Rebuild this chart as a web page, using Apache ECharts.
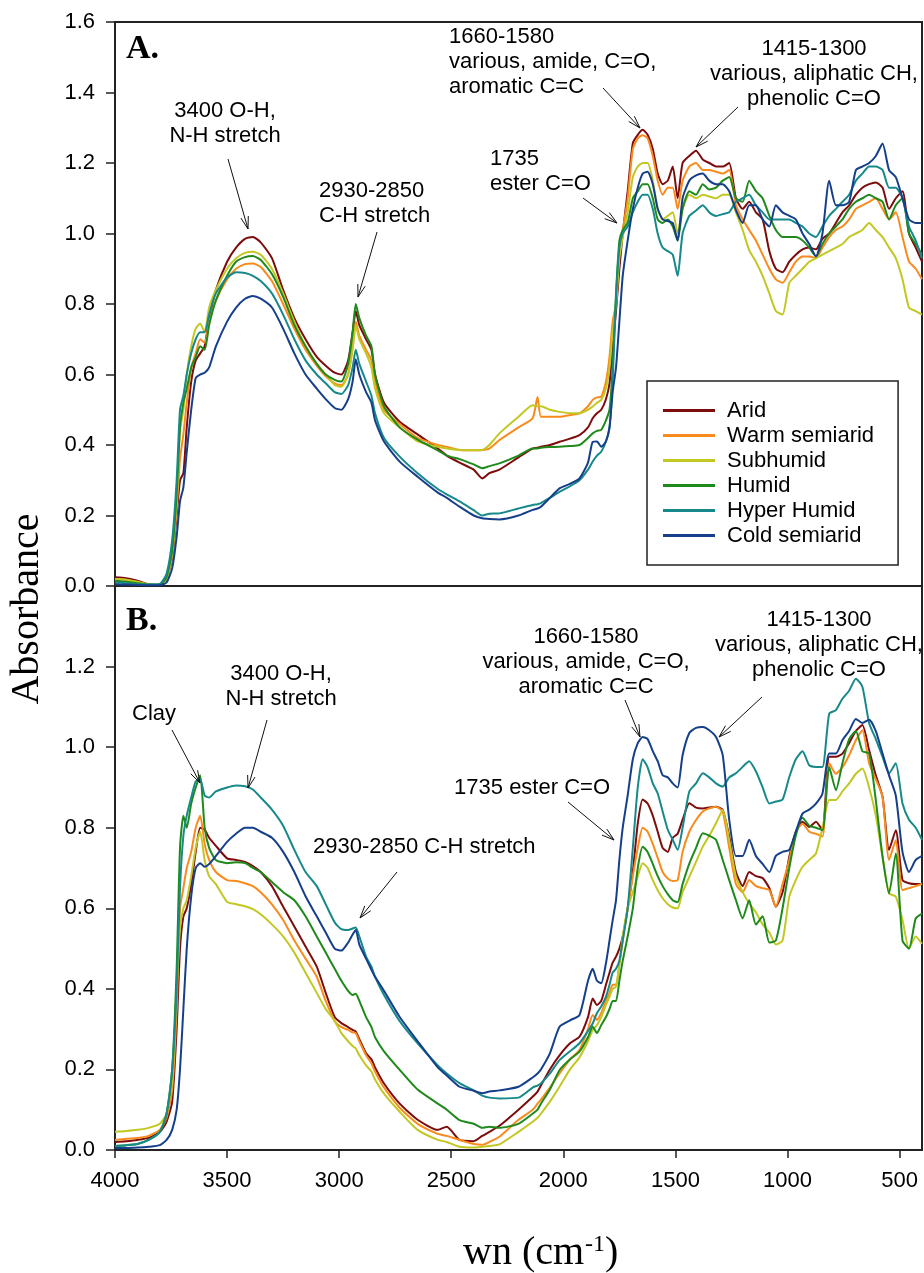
<!DOCTYPE html>
<html>
<head>
<meta charset="utf-8">
<script src="https://cdn.jsdelivr.net/npm/echarts@6/dist/echarts.min.js"></script>
<style>html,body{margin:0;padding:0;background:#fff}#chart{width:924px;height:1273px}</style>
</head>
<body>
<div id="chart"></div>
<script>
// wavenumber grid (cm-1), shared by both panels
var wn = [
  4000, 3950, 3900, 3850, 3800, 3770, 3745, 3725, 3710, 3695,
  3680, 3660, 3640, 3620, 3600, 3580, 3550, 3500, 3460, 3420,
  3385, 3350, 3300, 3250, 3200, 3150, 3100, 3060, 3020, 2990,
  2960, 2940, 2926, 2910, 2880, 2856, 2840, 2800, 2730, 2650,
  2560, 2520, 2463, 2400, 2362, 2330, 2285, 2200, 2137, 2115,
  2100, 2060, 2017, 1970, 1928, 1890, 1869, 1850, 1831, 1810,
  1794, 1780, 1765, 1750, 1735, 1713, 1690, 1668, 1646, 1624,
  1601, 1579, 1557, 1534, 1512, 1490, 1468, 1438, 1408, 1378,
  1349, 1319, 1289, 1260, 1230, 1200, 1171, 1141, 1111, 1081,
  1052, 1022, 992, 963, 933, 903, 873, 844, 814, 784,
  755, 725, 695, 666, 636, 606, 576, 547, 517, 487,
  458, 428, 400
];

var names = ['Arid', 'Warm semiarid', 'Subhumid', 'Humid', 'Hyper Humid', 'Cold semiarid'];
var colors = ['#7d0c0c', '#f98b1c', '#c3c722', '#1f8a1c', '#17898b', '#153f8a'];
var xTicks = [4000, 3500, 3000, 2500, 2000, 1500, 1000, 500];

// panel A
var aArid = [
  0.025, 0.022, 0.015, 0.005, 0.003, 0.02, 0.08, 0.2, 0.3, 0.32,
  0.45, 0.58, 0.64, 0.66, 0.68, 0.76, 0.84, 0.92, 0.96, 0.985,
  0.99, 0.975, 0.93, 0.84, 0.76, 0.7, 0.65, 0.625, 0.605, 0.6,
  0.64, 0.72, 0.78, 0.74, 0.7, 0.67, 0.6, 0.52, 0.466, 0.43,
  0.39, 0.37, 0.35, 0.33, 0.305, 0.32, 0.33, 0.365, 0.39, 0.392,
  0.395, 0.4, 0.409, 0.418, 0.428, 0.45, 0.476, 0.49, 0.5, 0.53,
  0.575, 0.68, 0.78, 0.9, 1.0, 1.12, 1.256, 1.28, 1.294, 1.28,
  1.24, 1.17, 1.14, 1.15, 1.19, 1.1, 1.2, 1.22, 1.235, 1.21,
  1.2, 1.19, 1.19, 1.2, 1.1, 1.07, 1.09, 1.06, 1.04, 0.95,
  0.9, 0.89, 0.92, 0.94, 0.955, 0.96, 0.955, 0.985, 1.0, 1.03,
  1.06, 1.08, 1.11, 1.13, 1.14, 1.145, 1.13, 1.07, 1.1, 1.12,
  1.0, 0.96, 0.92
];
var aWarm = [
  0.02, 0.018, 0.01, 0.004, 0.003, 0.02, 0.09, 0.22, 0.36, 0.43,
  0.52, 0.62, 0.66, 0.7, 0.69, 0.75, 0.81, 0.87, 0.9, 0.913,
  0.915, 0.905, 0.865, 0.8, 0.73, 0.67, 0.625, 0.595, 0.575, 0.57,
  0.6, 0.68, 0.75, 0.71, 0.67, 0.64, 0.58, 0.5, 0.46, 0.42,
  0.4, 0.395, 0.386, 0.385, 0.386, 0.39, 0.414, 0.45, 0.476, 0.536,
  0.48, 0.48, 0.48, 0.485, 0.49, 0.51, 0.528, 0.535, 0.537, 0.58,
  0.65, 0.75, 0.8, 0.95, 1.01, 1.1, 1.24, 1.27, 1.279, 1.27,
  1.22, 1.15, 1.11, 1.13, 1.13, 1.07, 1.15, 1.19, 1.2, 1.18,
  1.18, 1.175, 1.17, 1.18, 1.08, 1.04, 1.01, 0.98, 0.94, 0.9,
  0.87, 0.86, 0.89, 0.92, 0.935, 0.935, 0.93, 0.96, 0.99, 1.01,
  1.02, 1.04, 1.07, 1.08, 1.09, 1.1, 1.07, 1.04, 1.06, 0.99,
  0.92, 0.9, 0.87
];
var aSub = [
  0.02, 0.018, 0.012, 0.005, 0.003, 0.02, 0.09, 0.24, 0.44, 0.5,
  0.6, 0.68, 0.73, 0.745, 0.72, 0.79, 0.84, 0.9, 0.93, 0.945,
  0.948, 0.94, 0.9, 0.83, 0.75, 0.68, 0.63, 0.6, 0.57, 0.565,
  0.6, 0.67, 0.74, 0.7, 0.66, 0.62, 0.56, 0.49, 0.45, 0.41,
  0.395, 0.39, 0.386, 0.385, 0.386, 0.4, 0.433, 0.48, 0.513, 0.51,
  0.51, 0.5, 0.494, 0.49, 0.49, 0.5, 0.509, 0.52, 0.528, 0.56,
  0.62, 0.72, 0.8, 0.93, 0.99, 1.06, 1.16, 1.19, 1.2, 1.2,
  1.15, 1.07, 1.04, 1.05, 1.06, 1.0, 1.07, 1.11, 1.1, 1.11,
  1.105, 1.1, 1.11, 1.11, 1.06, 1.01, 0.953, 0.92, 0.88, 0.83,
  0.78, 0.77, 0.86, 0.88, 0.9, 0.92, 0.93, 0.94, 0.95, 0.96,
  0.97, 0.99, 1.0, 1.01, 1.03, 1.01, 0.99, 0.96, 0.93, 0.87,
  0.79, 0.78, 0.77
];
var aHumid = [
  0.015, 0.012, 0.008, 0.004, 0.004, 0.025, 0.1, 0.26, 0.45, 0.52,
  0.56, 0.62, 0.65, 0.68, 0.67, 0.74, 0.81, 0.88, 0.92, 0.933,
  0.936, 0.925, 0.885, 0.82, 0.74, 0.68, 0.63, 0.6, 0.585, 0.58,
  0.63, 0.72, 0.8, 0.76, 0.71, 0.68, 0.6, 0.51, 0.45, 0.415,
  0.385, 0.37, 0.36, 0.345, 0.334, 0.34, 0.348, 0.37, 0.39, 0.39,
  0.392, 0.394, 0.395, 0.397, 0.4, 0.42, 0.433, 0.44, 0.443, 0.47,
  0.5, 0.62, 0.83, 0.98, 1.01, 1.03, 1.1, 1.12, 1.14, 1.14,
  1.1, 1.04, 1.03, 1.04, 1.02, 0.98, 1.07, 1.12, 1.11, 1.14,
  1.125, 1.13, 1.15, 1.16, 1.1, 1.09, 1.15, 1.12, 1.1, 1.05,
  1.01, 0.99, 0.99, 0.99, 0.98, 0.96, 0.935, 0.97, 1.0, 1.02,
  1.04, 1.07, 1.09, 1.1, 1.11, 1.1, 1.09, 1.04, 1.08, 1.1,
  1.0, 0.97, 0.94
];
var aHyper = [
  0.01, 0.008, 0.005, 0.004, 0.006, 0.035, 0.13, 0.3, 0.5, 0.54,
  0.6, 0.66, 0.7, 0.72, 0.72, 0.77, 0.83, 0.875, 0.89, 0.888,
  0.88, 0.865, 0.83, 0.77, 0.7, 0.64, 0.6, 0.575, 0.55, 0.545,
  0.57, 0.62, 0.67, 0.63, 0.58, 0.54, 0.49, 0.42, 0.367, 0.32,
  0.275, 0.26, 0.24, 0.215, 0.2, 0.205, 0.206, 0.22, 0.23, 0.232,
  0.235, 0.25, 0.267, 0.283, 0.3, 0.33, 0.353, 0.37, 0.381, 0.41,
  0.45, 0.58, 0.82, 0.96, 1.0, 1.02, 1.06, 1.09, 1.11, 1.11,
  1.07, 1.0, 0.96, 0.95, 0.94, 0.88, 1.0, 1.05, 1.065, 1.08,
  1.06, 1.05, 1.055, 1.06, 1.09, 1.1, 1.11, 1.08, 1.06, 1.04,
  1.04, 1.04, 1.04, 1.03, 1.02, 1.0, 0.99, 1.02, 1.05, 1.07,
  1.09, 1.11, 1.15, 1.17, 1.19, 1.19, 1.18, 1.13, 1.13, 1.1,
  1.02, 0.98, 0.93
];
var aCold = [
  0.005, 0.004, 0.003, 0.002, 0.002, 0.01, 0.05, 0.14, 0.24, 0.28,
  0.38, 0.5, 0.59, 0.6, 0.605, 0.62, 0.68, 0.75, 0.79, 0.815,
  0.823, 0.815, 0.79, 0.73, 0.66, 0.6, 0.56, 0.53, 0.505, 0.5,
  0.53, 0.58, 0.643, 0.6, 0.55, 0.52, 0.47, 0.41, 0.353, 0.31,
  0.265, 0.25, 0.225, 0.2, 0.192, 0.19, 0.189, 0.2, 0.216, 0.22,
  0.225, 0.25, 0.277, 0.29, 0.305, 0.35, 0.409, 0.41, 0.395, 0.41,
  0.45, 0.55, 0.62, 0.75, 0.88, 0.98, 1.07, 1.13, 1.17, 1.175,
  1.14, 1.07, 1.04, 1.035, 1.03, 0.98, 1.1, 1.15, 1.165, 1.17,
  1.15, 1.14, 1.14, 1.12, 1.066, 1.03, 1.08, 1.08, 1.04, 1.02,
  1.08, 1.06, 1.05, 1.04, 1.0, 0.97, 0.935, 1.0, 1.15, 1.08,
  1.08, 1.09, 1.18, 1.19, 1.2, 1.22, 1.255, 1.18, 1.16, 1.1,
  1.04, 1.03, 1.03
];

// panel B
var bArid = [
  0.02, 0.022, 0.025, 0.03, 0.045, 0.07, 0.12, 0.3, 0.5, 0.58,
  0.6, 0.66, 0.74, 0.8, 0.795, 0.775, 0.755, 0.724, 0.72, 0.715,
  0.705, 0.69, 0.655, 0.604, 0.555, 0.505, 0.455, 0.39, 0.33, 0.315,
  0.305, 0.298, 0.294, 0.275, 0.24, 0.225, 0.205, 0.165, 0.115, 0.075,
  0.05, 0.058, 0.025, 0.022, 0.035, 0.045, 0.06, 0.1, 0.132, 0.145,
  0.16, 0.2, 0.235, 0.265, 0.281, 0.33, 0.376, 0.36, 0.37, 0.41,
  0.44, 0.465, 0.48, 0.5, 0.53, 0.6, 0.69, 0.81, 0.87, 0.86,
  0.83, 0.79, 0.75, 0.74, 0.775, 0.785, 0.82, 0.861, 0.85, 0.848,
  0.85, 0.852, 0.844, 0.778, 0.69, 0.655, 0.69, 0.68, 0.675, 0.65,
  0.604, 0.64, 0.728, 0.79, 0.815, 0.802, 0.815, 0.794, 0.976, 0.976,
  0.984, 1.01, 1.04, 1.055, 0.993, 0.93, 0.877, 0.745, 0.794, 0.67,
  0.662, 0.66, 0.66
];
var bWarm = [
  0.025, 0.028, 0.03, 0.035, 0.05, 0.08, 0.15, 0.35, 0.6, 0.65,
  0.7, 0.74, 0.8, 0.83, 0.76, 0.72, 0.69, 0.67, 0.668, 0.662,
  0.655, 0.64, 0.61, 0.571, 0.52, 0.475, 0.43, 0.37, 0.32, 0.305,
  0.298, 0.292, 0.29, 0.27, 0.235, 0.215, 0.195, 0.155, 0.105, 0.065,
  0.04, 0.035, 0.025, 0.015, 0.013, 0.02, 0.033, 0.075, 0.1, 0.115,
  0.125, 0.155, 0.19, 0.225, 0.248, 0.3, 0.335, 0.323, 0.34, 0.37,
  0.39, 0.41, 0.41, 0.46, 0.52, 0.6, 0.68, 0.75, 0.8, 0.79,
  0.76, 0.725, 0.69, 0.674, 0.668, 0.67, 0.74, 0.79, 0.819, 0.84,
  0.848, 0.852, 0.84, 0.75, 0.66, 0.64, 0.67, 0.655, 0.65, 0.645,
  0.604, 0.66, 0.72, 0.79, 0.81, 0.79, 0.785, 0.778, 0.96, 0.934,
  0.95, 0.98, 1.017, 1.042, 0.96, 0.92, 0.877, 0.72, 0.769, 0.645,
  0.65, 0.655, 0.661
];
var bSub = [
  0.045, 0.047, 0.05, 0.055, 0.065, 0.09, 0.17, 0.4, 0.55, 0.6,
  0.62, 0.68, 0.75, 0.79, 0.72, 0.68, 0.66, 0.616, 0.61, 0.605,
  0.598, 0.585, 0.56, 0.53, 0.49, 0.44, 0.39, 0.35, 0.32, 0.29,
  0.27, 0.258, 0.252, 0.235, 0.21, 0.195, 0.175, 0.14, 0.095, 0.05,
  0.025, 0.02, 0.008, 0.006, 0.008, 0.01, 0.014, 0.045, 0.07, 0.08,
  0.09, 0.12, 0.157, 0.2, 0.23, 0.27, 0.298, 0.31, 0.33, 0.36,
  0.38, 0.4, 0.405, 0.46, 0.53, 0.6, 0.64, 0.68, 0.712, 0.7,
  0.67, 0.645, 0.625, 0.61, 0.602, 0.6, 0.64, 0.678, 0.715, 0.753,
  0.78, 0.811, 0.844, 0.769, 0.678, 0.64, 0.612, 0.59, 0.56, 0.54,
  0.51, 0.52, 0.629, 0.67, 0.703, 0.72, 0.736, 0.8, 0.869, 0.869,
  0.89, 0.91, 0.934, 0.947, 0.9, 0.83, 0.728, 0.637, 0.629, 0.571,
  0.5, 0.53, 0.512
];
var bHumid = [
  0.01, 0.012, 0.015, 0.025, 0.045, 0.09, 0.2, 0.45, 0.75, 0.83,
  0.8, 0.86, 0.9, 0.93, 0.8, 0.75, 0.72, 0.712, 0.714, 0.712,
  0.7, 0.69, 0.665, 0.64, 0.62, 0.58, 0.53, 0.49, 0.45, 0.42,
  0.395, 0.385, 0.388, 0.37, 0.33, 0.305, 0.28, 0.245, 0.199, 0.15,
  0.115, 0.1, 0.074, 0.065, 0.055, 0.058, 0.055, 0.065, 0.09, 0.1,
  0.115, 0.15, 0.198, 0.225, 0.244, 0.28, 0.306, 0.29, 0.31, 0.33,
  0.35, 0.37, 0.37, 0.42, 0.47, 0.53, 0.6, 0.7, 0.753, 0.74,
  0.71, 0.68, 0.655, 0.635, 0.62, 0.615, 0.66, 0.711, 0.75, 0.786,
  0.78, 0.77, 0.72, 0.67, 0.62, 0.575, 0.62, 0.56, 0.58, 0.515,
  0.52, 0.6, 0.7, 0.78, 0.825, 0.805, 0.8, 0.794, 0.951, 0.893,
  0.96, 1.02, 1.04, 0.99, 0.984, 0.868, 0.728, 0.637, 0.736, 0.52,
  0.5, 0.575, 0.587
];
var bHyper = [
  0.01, 0.012, 0.015, 0.025, 0.045, 0.09, 0.2, 0.4, 0.65, 0.78,
  0.83, 0.875, 0.915, 0.92, 0.88, 0.875, 0.89, 0.9, 0.905, 0.903,
  0.895, 0.875, 0.845, 0.805, 0.745, 0.69, 0.655, 0.61, 0.565, 0.548,
  0.546, 0.55, 0.552, 0.53, 0.48, 0.455, 0.43, 0.385, 0.32, 0.265,
  0.21, 0.19, 0.166, 0.148, 0.135, 0.13, 0.128, 0.13, 0.155, 0.16,
  0.165, 0.19, 0.223, 0.245, 0.265, 0.295, 0.314, 0.34, 0.356, 0.38,
  0.41, 0.44, 0.45, 0.47, 0.52, 0.6, 0.75, 0.9, 0.97, 0.95,
  0.91, 0.885, 0.84, 0.795, 0.77, 0.745, 0.8, 0.89, 0.91, 0.935,
  0.925, 0.91, 0.902, 0.925, 0.935, 0.951, 0.965, 0.94, 0.9, 0.86,
  0.865, 0.87, 0.926, 0.97, 0.99, 0.955, 0.951, 0.951, 1.083, 1.092,
  1.12, 1.14, 1.17, 1.15, 1.06, 1.02, 0.976, 0.935, 0.96, 0.86,
  0.82, 0.8, 0.77
];
var bCold = [
  0.005, 0.005, 0.006, 0.008, 0.012, 0.025, 0.05, 0.1, 0.2, 0.35,
  0.5, 0.63, 0.7, 0.712, 0.703, 0.71, 0.73, 0.765, 0.785, 0.8,
  0.8, 0.79, 0.775, 0.74, 0.69, 0.63, 0.58, 0.54, 0.5, 0.495,
  0.515, 0.535, 0.546, 0.51, 0.475, 0.447, 0.43, 0.395, 0.33, 0.27,
  0.205, 0.185, 0.157, 0.147, 0.141, 0.145, 0.148, 0.157, 0.18, 0.19,
  0.2, 0.24, 0.306, 0.322, 0.335, 0.42, 0.45, 0.42, 0.414, 0.463,
  0.52, 0.57, 0.62, 0.72, 0.8, 0.88, 0.97, 1.01, 1.025, 1.02,
  0.99, 0.965, 0.93, 0.925, 0.91, 0.9, 0.98, 1.035, 1.048, 1.05,
  1.042, 1.025, 0.98, 0.82, 0.73, 0.73, 0.77, 0.73, 0.71, 0.69,
  0.73, 0.74, 0.745, 0.79, 0.835, 0.845, 0.86, 0.885, 0.984, 0.984,
  1.017, 1.04, 1.07, 1.06, 1.068, 1.04, 0.984, 0.93, 0.88, 0.74,
  0.69, 0.72, 0.73
];

var panelA = [aArid, aWarm, aSub, aHumid, aHyper, aCold];
var panelB = [bArid, bWarm, bSub, bHumid, bHyper, bCold];

var sans = '"Liberation Sans", Arial, sans-serif';
var serif = '"Liberation Serif", "Times New Roman", serif';

function pairs(vals) {
  return wn.map(function (w, i) { return [w, vals[i]]; });
}

var series = [];
[panelA, panelB].forEach(function (panel, p) {
  panel.forEach(function (vals, i) {
    series.push({
      name: names[i],
      type: 'line',
      xAxisIndex: p,
      yAxisIndex: p,
      data: pairs(vals),
      showSymbol: false,
      smooth: 0.2,
      lineStyle: { color: colors[i], width: 2 },
      itemStyle: { color: colors[i] }
    });
  });
});

function txt(text, x, y, align, opts) {
  opts = opts || {};
  return {
    type: 'text', x: x, y: y, rotation: opts.rotation || 0, z: 100,
    style: {
      text: text, fill: '#000',
      fontSize: opts.size || 22, fontFamily: opts.family || sans,
      fontWeight: opts.weight || 'normal',
      align: align || 'center', verticalAlign: 'middle', lineHeight: opts.lh || 25
    }
  };
}

function arrow(x1, y1, x2, y2) {
  var ang = Math.atan2(y2 - y1, x2 - x1), L = 13, a = 0.3;
  var p1 = [x2 - L * Math.cos(ang - a), y2 - L * Math.sin(ang - a)];
  var p2 = [x2 - L * Math.cos(ang + a), y2 - L * Math.sin(ang + a)];
  return [
    { type: 'line', z: 100, shape: { x1: x1, y1: y1, x2: x2, y2: y2 }, style: { stroke: '#111', lineWidth: 1 } },
    { type: 'polyline', z: 100, shape: { points: [p1, [x2, y2], p2] }, style: { stroke: '#111', lineWidth: 1, fill: null } }
  ];
}

var graphics = [
  txt('A.', 126, 49, 'left', { size: 34, family: serif, weight: 'bold' }),
  txt('B.', 126, 621, 'left', { size: 34, family: serif, weight: 'bold' }),
  txt('Absorbance', 27, 609, 'center', { size: 40, family: serif, rotation: Math.PI / 2 }),
  txt('wn (cm', 463, 1253, 'left', { size: 40, family: serif }),
  txt('-1', 585, 1245, 'left', { size: 24, family: serif }),
  txt(')', 605, 1253, 'left', { size: 40, family: serif }),

  txt('3400 O-H,\nN-H stretch', 225, 123),
  txt('2930-2850\nC-H stretch', 319, 203, 'left'),
  txt('1660-1580\nvarious, amide, C=O,\naromatic C=C', 449, 62, 'left'),
  txt('1415-1300\nvarious, aliphatic CH,\nphenolic C=O', 814, 74),
  txt('1735\nester C=O', 490, 171, 'left'),

  txt('Clay', 132, 714, 'left'),
  txt('3400 O-H,\nN-H stretch', 281, 686),
  txt('2930-2850 C-H stretch', 313, 847, 'left'),
  txt('1660-1580\nvarious, amide, C=O,\naromatic C=C', 586, 662),
  txt('1415-1300\nvarious, aliphatic CH,\nphenolic C=O', 819, 645),
  txt('1735 ester C=O', 610, 788, 'right')
];
[
  [228, 159, 248, 229], [377, 232, 358, 297], [603, 88, 640, 128],
  [738, 107, 696, 147], [583, 198, 617, 223],
  [172, 730, 200, 783], [267, 720, 248, 788], [397, 872, 360, 918],
  [625, 700, 640, 737], [762, 697, 719, 737], [568, 802, 614, 840]
].forEach(function (a) { graphics = graphics.concat(arrow(a[0], a[1], a[2], a[3])); });

var axisColor = '#222';
function yAxis(gi, max, hideMax) {
  return {
    gridIndex: gi, type: 'value', min: 0, max: max, interval: 0.2,
    axisLine: { show: true, lineStyle: { color: axisColor, width: 2 } },
    axisTick: { show: true, inside: false, length: 9, lineStyle: { color: axisColor, width: 1.5 } },
    axisLabel: {
      fontSize: 22, fontFamily: sans, color: '#000', margin: 20, showMaxLabel: !hideMax,
      formatter: function (v) { return v.toFixed(1); }
    },
    splitLine: { show: false }
  };
}

var chart = echarts.init(document.getElementById('chart'));
chart.setOption({
  animation: false,
  backgroundColor: '#fff',
  grid: [
    { left: 115, top: 22, width: 807, height: 564, show: true, borderColor: axisColor, borderWidth: 2 },
    { left: 115, top: 586, width: 807, height: 564, show: true, borderColor: axisColor, borderWidth: 2 }
  ],
  xAxis: [
    { gridIndex: 0, type: 'value', min: 400, max: 4000, inverse: true, show: false },
    {
      gridIndex: 1, type: 'value', min: 400, max: 4000, inverse: true,
      axisLine: { show: true, lineStyle: { color: axisColor, width: 2 } },
      axisTick: { show: true, inside: false, length: 8, customValues: xTicks, lineStyle: { color: axisColor, width: 1.5 } },
      axisLabel: {
        customValues: xTicks, fontSize: 22, fontFamily: sans, color: '#000', margin: 20,
        formatter: function (v) { return String(v); }
      },
      splitLine: { show: false }
    }
  ],
  yAxis: [yAxis(0, 1.6, false), yAxis(1, 1.4, true)],
  legend: {
    data: names, orient: 'vertical', left: 647, top: 381,
    padding: [17, 24, 17, 16], itemGap: 0, itemWidth: 52, itemHeight: 3, icon: 'rect',
    borderColor: axisColor, borderWidth: 1.5, backgroundColor: '#fff', selectedMode: false,
    textStyle: { fontSize: 22, fontFamily: sans, color: '#000', lineHeight: 25, padding: [0, 0, 0, 7] }
  },
  series: series,
  graphic: graphics
});
</script>
</body>
</html>
